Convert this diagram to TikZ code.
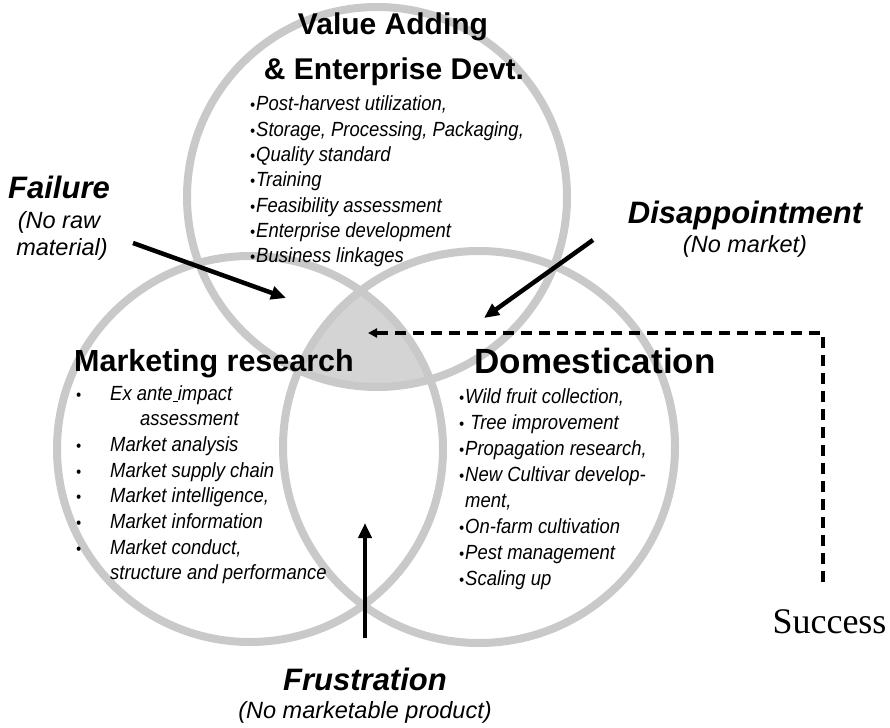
\documentclass[tikz,border=0pt]{standalone}
\usepackage{fontspec}
\setmainfont{Liberation Sans}
\newfontfamily\condsf[FakeStretch=0.9]{Liberation Sans}
\newfontfamily\serifsf{Liberation Serif}
\usetikzlibrary{arrows.meta}

\definecolor{ringgrey}{RGB}{201,201,201}
\definecolor{coregrey}{RGB}{212,212,212}

\newcommand{\bul}{{\fontsize{16}{16}\selectfont\textbullet}\hspace{1pt}}

\tikzset{
	ring/.style={draw=ringgrey, line width=8pt},
	heading/.style={anchor=base, inner sep=0pt, font=\bfseries\fontsize{#1}{#1}\selectfont},
	item/.style={anchor=base west, inner sep=0pt, font=\condsf\itshape\fontsize{20.5}{24}\selectfont},
	outcome/.style={anchor=base, inner sep=0pt, font=\bfseries\itshape\fontsize{31}{31}\selectfont},
	cause/.style={anchor=base, inner sep=0pt, font=\itshape\fontsize{23.5}{24}\selectfont},
	push/.style={line width=4.5pt, -{Triangle[length=15pt,width=13pt]}},
	loopback/.style={line width=3.5pt, dash pattern=on 11pt off 7pt, -{Triangle[length=9pt,width=9pt]}}
}

\begin{document}
\begin{tikzpicture}[x=1pt,y=-1pt]
	\useasboundingbox (0,0) rectangle (890,727);

	% the three circles
	\coordinate (vacentre) at (377,197);
	\coordinate (mrcentre) at (250,449);
	\coordinate (dmcentre) at (479,447);
	\begin{scope}
		\clip (vacentre) circle[radius=190pt];
		\clip (mrcentre) circle[radius=193pt];
		\fill[coregrey] (dmcentre) circle[radius=196pt];
	\end{scope}
	\draw[ring] (vacentre) circle[radius=190pt];
	\draw[ring] (mrcentre) circle[radius=193pt];
	\draw[ring] (dmcentre) circle[radius=196pt];

	% headings
	\node[heading=30] (vatitle) at (393,35) {Value Adding};
	\node[heading=30] (vatitleb) at (394,80) {\& Enterprise Devt.};
	\node[heading=30.5] (mrtitle) at (214,371) {Marketing research};
	\node[heading=35] (dmtitle) at (595,373) {Domestication};

	% value adding list
	\foreach \txt [count=\i] in {{Post-harvest utilization,}, {Storage, Processing, Packaging,}, Quality standard, Training, Feasibility assessment, Enterprise development, Business linkages}
		\node[item] (va\i) at (250, 111+25.3*\i-25.3) {\bul\txt};

	% marketing research list
	\foreach \txt/\ind/\dot [count=\i] in {Ex ante\underline{\ }impact/0/1, assessment/30/0, Market analysis/0/1, Market supply chain/0/1, {Market intelligence,}/0/1, Market information/0/1, {Market conduct,}/0/1, structure and performance/0/0} {
		\node[item] (mr\i) at (110+\ind, 400+25.7*\i-25.7) {\txt};
		\ifnum\dot=1 \node[item] (mrdot\i) at (76, 400+25.7*\i-25.7) {\bul}; \fi
	}

	% domestication list
	\foreach \txt [count=\i] in {{\bul Wild fruit collection,}, {\bul\ Tree improvement}, {\bul Propagation research,}, {\bul New Cultivar develop-}, {\phantom{\bul}ment,}, {\bul On-farm cultivation}, {\bul Pest management}, {\bul Scaling up}}
		\node[item] (dm\i) at (459, 403+26*\i-26) {\txt};

	% outcomes
	\node[outcome] (failure) at (59,199) {Failure};
	\node[cause] (failurea) at (59,228) {(No raw};
	\node[cause] (failureb) at (62,255) {material)};
	\node[outcome] (disap) at (745,223) {Disappointment};
	\node[cause] (disapa) at (745,252) {(No market)};
	\node[outcome] (frust) at (365,690) {Frustration};
	\node[cause] (frusta) at (365,718) {(No marketable product)};
	\node[anchor=base, inner sep=0pt, font=\serifsf\fontsize{36}{36}\selectfont] (success) at (829.5,633) {Success};

	% arrows into the core
	\coordinate (failtail) at (133,243);
	\coordinate (failtip) at (286,298);
	\coordinate (disaptail) at (593,240);
	\coordinate (disaptip) at (484,318);
	\coordinate (frusttail) at (365,638);
	\coordinate (frusttip) at (365,523);
	\coordinate (succtail) at (823,582);
	\coordinate (succtip) at (368,333);
	\draw[push] (failtail) -- (failtip);
	\draw[push] (disaptail) -- (disaptip);
	\draw[push] (frusttail) -- (frusttip);
	\draw[loopback] (succtail) |- (succtip);
\end{tikzpicture}
\end{document}
